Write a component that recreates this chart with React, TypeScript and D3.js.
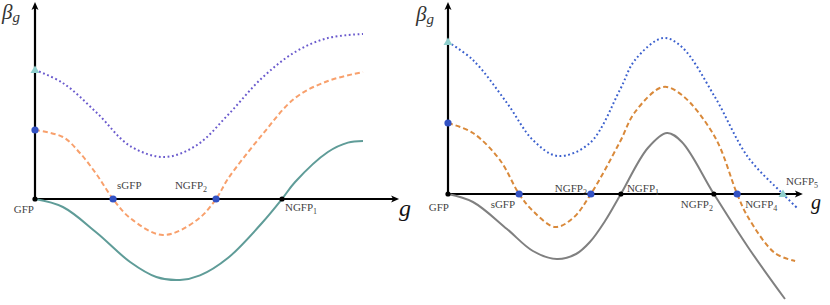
import React from 'react';
import * as d3 from 'd3';

type Pt = [number, number];

// left panel: beta_g against g
const leftSolid: Pt[] = [[0, 0], [0.85, -0.4], [1.89, -1.7], [2.9, -3.15], [3.7, -3.9], [4.42, -4.05], [5.03, -3.82], [5.88, -2.95], [6.92, -1.2], [7.53, 0], [7.93, 0.85], [8.93, 2.35], [9.54, 2.82], [10, 2.9]];
const leftDashed: Pt[] = [[0, 3.45], [0.85, 3.1], [1.37, 2.3], [1.89, 1.2], [2.38, 0], [2.9, -0.95], [3.9, -1.8], [4.94, -1.05], [5.52, 0], [5.88, 1.0], [6.92, 3.2], [7.93, 5.05], [8.93, 5.9], [10, 6.35]];
const leftDotted: Pt[] = [[0, 6.45], [0.85, 5.8], [1.89, 4.3], [2.9, 2.65], [3.96, 2.1], [4.94, 2.7], [5.88, 4.2], [6.92, 6.05], [7.93, 7.35], [8.93, 8.05], [10, 8.25]];
const leftBlue: Pt[] = [[0, 3.45], [2.38, 0], [5.52, 0]];
const leftBlack: Pt[] = [[0, 0], [7.53, 0]];
const leftTri: Pt[] = [[0, 6.45]];
const leftNames = ['GFP', 'sGFP', 'NGFP', 'NGFP'];
const leftSubs = ['', '', '2', '1'];
const leftAt = [0, 2.38, 5.52, 7.53];

// right panel
const rightSolid: Pt[] = [[0, 0], [0.74, -0.4], [1.75, -1.75], [2.52, -2.85], [3.23, -3.25], [3.8, -3.0], [4.21, -2.4], [4.66, -1.35], [5.13, 0], [5.93, 2.3], [6.5, 3.05], [6.94, 2.6], [7.89, 0], [8.9, -2.65], [10, -5.25]];
const rightDashed: Pt[] = [[0, 3.55], [0.74, 3.05], [1.54, 1.7], [2.11, 0], [2.52, -0.85], [3.18, -1.65], [3.71, -1.2], [4.24, 0], [5.1, 2.6], [5.55, 4.1], [6.38, 5.35], [6.94, 4.95], [7.92, 2.85], [8.58, 0], [8.9, -1.15], [9.7, -2.95], [10.3, -3.35]];
const rightDotted: Pt[] = [[0, 7.6], [0.74, 6.7], [1.75, 4.55], [2.52, 2.7], [3.26, 1.9], [4.21, 2.55], [5.1, 5.2], [5.55, 6.7], [6.38, 7.8], [6.94, 7.35], [7.92, 4.85], [8.9, 1.85], [9.94, 0], [10.36, -0.7]];
const rightBlue: Pt[] = [[0, 3.55], [2.11, 0], [4.24, 0], [8.58, 0]];
const rightBlack: Pt[] = [[0, 0], [5.13, 0], [7.89, 0]];
const rightTri: Pt[] = [[0, 7.6], [9.94, 0]];
const rightNames = ['GFP', 'sGFP', 'NGFP', 'NGFP', 'NGFP', 'NGFP', 'NGFP'];
const rightSubs = ['', '', '3', '1', '2', '4', '5'];
const rightAt = [0, 2.11, 4.24, 5.13, 7.89, 8.58, 9.94];

// label placement [anchor, dx, dy]
const leftPlace: [string, number, number][] = [['end', -1, 14], ['start', 4, -10], ['end', -9, -10], ['start', 3, 12]];
const rightPlace: [string, number, number][] = [['end', 1, 17], ['end', -4, 14], ['end', -4, -2], ['start', 6, -2], ['end', -1, 14], ['start', 8, 14], ['start', 3, -9]];

const FONT = '"Liberation Serif", "DejaVu Serif", serif';

interface PanelProps {
  x: d3.ScaleLinear<number, number>;
  y: d3.ScaleLinear<number, number>;
  xMax: number;
  yMax: number;
  curves: { pts: Pt[]; color: string; width: number; dash?: string }[];
  blue: Pt[];
  black: Pt[];
  tri: Pt[];
  names: string[];
  subs: string[];
  at: number[];
  place: [string, number, number][];
  betaPos: [number, number];
  gPos: [number, number];
  gSize: number;
}

function Panel(p: PanelProps) {
  const { x, y } = p;
  const x0 = x(0), y0 = y(0), x1 = x(p.xMax), y1 = y(p.yMax);
  const line = d3.line<Pt>().x(d => x(d[0])).y(d => y(d[1])).curve(d3.curveCatmullRom.alpha(0.5));

  return (
    <g>
      {/* axes */}
      <line x1={x0} y1={y0} x2={x1 - 4} y2={y0} stroke="#000" strokeWidth={2.2} />
      <line x1={x0} y1={y0} x2={x0} y2={y1 + 4} stroke="#000" strokeWidth={2.2} />
      <path d={`M${x1},${y0} L${x1 - 8},${y0 - 3.5} L${x1 - 6},${y0} L${x1 - 8},${y0 + 3.5} Z`} fill="#000" />
      <path d={`M${x0},${y1} L${x0 - 3.5},${y1 + 8} L${x0},${y1 + 6} L${x0 + 3.5},${y1 + 8} Z`} fill="#000" />

      {p.curves.map((c, i) => (
        <path key={i} d={line(c.pts) || ''} fill="none" stroke={c.color} strokeWidth={c.width} strokeDasharray={c.dash} />
      ))}

      {p.black.map((d, i) => (
        <circle key={'k' + i} cx={x(d[0])} cy={y(d[1])} r={2.6} fill="#000" />
      ))}
      {p.blue.map((d, i) => (
        <circle key={'b' + i} cx={x(d[0])} cy={y(d[1])} r={3.6} fill="#3352c4" />
      ))}
      {p.tri.map((d, i) => {
        const cx = x(d[0]), cy = y(d[1]);
        return <path key={'t' + i} d={`M${cx},${cy - 4.5} L${cx + 4.5},${cy + 3} L${cx - 4.5},${cy + 3} Z`} fill="#8fcfcd" />;
      })}

      {p.names.map((n, i) => {
        const [anchor, dx, dy] = p.place[i];
        return (
          <text key={'l' + i} x={x(p.at[i]) + dx} y={y0 + dy} textAnchor={anchor as any}
            style={{ fontFamily: FONT }} fontSize={11} fill="#444">
            {n}
            {p.subs[i] && <tspan fontSize={8} dy={3}>{p.subs[i]}</tspan>}
          </text>
        );
      })}

      <text x={p.betaPos[0]} y={p.betaPos[1]} style={{ fontFamily: FONT }} fontStyle="italic" fontSize={21} fill="#333">
        β<tspan fontSize={15} dy={3}>g</tspan>
      </text>
      <text x={p.gPos[0]} y={p.gPos[1]} style={{ fontFamily: FONT }} fontStyle="italic" fontSize={p.gSize} fill="#111">g</text>
    </g>
  );
}

export default function App() {
  const xL = d3.scaleLinear().domain([0, 10]).range([35, 363]);
  const yL = d3.scaleLinear().domain([0, 1]).range([199, 179]);
  const xR = d3.scaleLinear().domain([0, 10]).range([448, 785]);
  const yR = d3.scaleLinear().domain([0, 1]).range([194, 174]);

  return (
    <div style={{ position: 'fixed', left: 0, top: 0 }}>
      <svg width={830} height={305} style={{ display: 'block', background: '#fff' }}>
        <Panel
          x={xL} y={yL} xMax={11.1} yMax={9.85}
          curves={[
            { pts: leftDotted, color: '#6a5acd', width: 2, dash: '1.8 2.6' },
            { pts: leftDashed, color: '#f8a06c', width: 2, dash: '5 3' },
            { pts: leftSolid, color: '#5f9c98', width: 2 },
          ]}
          blue={leftBlue} black={leftBlack} tri={leftTri}
          names={leftNames} subs={leftSubs} at={leftAt} place={leftPlace}
          betaPos={[2, 19]} gPos={[399, 216]} gSize={24}
        />
        <Panel
          x={xR} y={yR} xMax={10.53} yMax={9.6}
          curves={[
            { pts: rightDotted, color: '#3a5fcd', width: 2, dash: '1.8 2.6' },
            { pts: rightDashed, color: '#d9893a', width: 2, dash: '5 3' },
            { pts: rightSolid, color: '#808080', width: 2 },
          ]}
          blue={rightBlue} black={rightBlack} tri={rightTri}
          names={rightNames} subs={rightSubs} at={rightAt} place={rightPlace}
          betaPos={[416, 21]} gPos={[811, 209]} gSize={20}
        />
      </svg>
    </div>
  );
}
